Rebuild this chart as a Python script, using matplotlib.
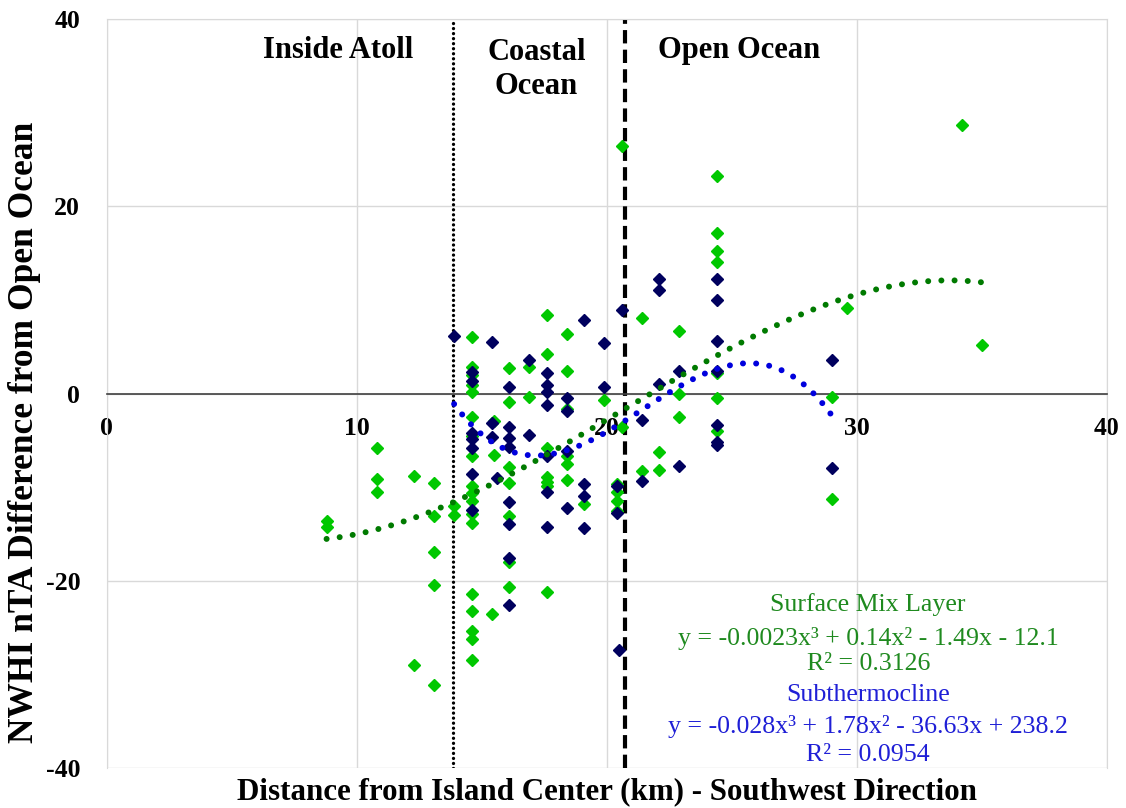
import matplotlib
matplotlib.use('Agg')
import matplotlib.pyplot as plt
import numpy as np

plt.rcParams['font.family'] = ['Liberation Serif', 'DejaVu Serif']
plt.rcParams['axes.unicode_minus'] = False

# Surface mix layer samples: distance (km) and nTA difference
surface_x = [8.8, 8.8,
             10.8, 10.8, 10.8,
             12.3, 12.3,
             13.1, 13.1, 13.1, 13.1, 13.1,
             13.9, 13.9,
             14.6, 14.6, 14.6, 14.6, 14.6, 14.6, 14.6, 14.6, 14.6, 14.6, 14.6, 14.6, 14.6,
             14.6, 14.6, 14.6, 14.6, 14.6,
             15.5, 15.5, 15.4,
             16.1, 16.1, 16.1, 16.1, 16.1, 16.1, 16.1,
             16.9, 16.9,
             17.6, 17.6, 17.6, 17.6, 17.6, 17.6, 17.6,
             18.4, 18.4, 18.4, 18.4, 18.4, 18.4,
             19.1,
             19.9,
             20.4, 20.4, 20.4, 20.4, 20.6, 20.6,
             21.4, 21.4,
             22.1, 22.1,
             22.9, 22.9, 22.9,
             24.4, 24.4, 24.4, 24.4, 24.4, 24.4, 24.4,
             29.0, 29.0,
             29.6, 34.2, 35.0]
surface_y = [-13.6, -14.2,
             -5.8, -9.1, -10.5,
             -8.8, -29.0,
             -9.5, -13.1, -16.9, -20.4, -31.1,
             -12.0, -12.9,
             6.1, 2.9, 2.0, 0.9, 0.2, -2.5, -4.5, -6.6, -9.8, -10.6, -11.5, -12.8, -13.8,
             -21.4, -23.2, -25.3, -26.2, -28.4,
             -2.9, -6.5, -23.5,
             2.7, -0.9, -7.8, -9.5, -13.0, -18.0, -20.6,
             2.9, -0.3,
             8.4, 4.2, -5.8, -8.9, -9.4, -9.9, -21.2,
             6.4, 2.4, -1.6, -6.6, -7.5, -9.2,
             -11.8,
             -0.7,
             -9.6, -10.5, -11.4, -12.5, 26.4, -3.5,
             8.1, -8.3,
             -6.2, -8.1,
             6.7, 0.0, -2.5,
             23.2, 17.2, 15.2, 14.1, 2.2, -0.5, -4.0,
             -0.4, -11.2,
             9.2, 28.7, 5.2]

# Subthermocline samples
subtherm_x = [13.9,
              14.6, 14.6, 14.6, 14.6, 14.6, 14.6, 14.6,
              15.4, 15.4, 15.4, 15.6,
              16.1, 16.1, 16.1, 16.1, 16.1, 16.1, 16.1, 16.1,
              16.9, 16.9,
              17.6, 17.6, 17.6, 17.6, 17.6, 17.6, 17.6,
              18.4, 18.4, 18.4, 18.4,
              19.1, 19.1, 19.1, 19.1,
              19.9, 19.9,
              20.6, 20.4, 20.4, 20.5,
              21.4, 21.4,
              22.1, 22.1, 22.1,
              22.9, 22.9,
              24.4, 24.4, 24.4, 24.4, 24.4, 24.4, 24.4,
              29.0, 29.0]
subtherm_y = [6.2,
              2.3, 1.4, -4.2, -4.8, -5.8, -8.6, -12.4,
              5.5, -3.1, -4.6, -9.0,
              0.7, -3.6, -4.7, -5.7, -11.6, -13.9, -17.5, -22.6,
              3.6, -4.4,
              2.2, 0.9, 0.2, -1.2, -6.6, -10.5, -14.2,
              -0.5, -1.8, -6.1, -12.2,
              7.9, -9.6, -10.9, -14.3,
              5.4, 0.7,
              8.9, -9.9, -12.7, -27.3,
              -2.8, -9.3,
              12.2, 11.1, 1.0,
              2.4, -7.7,
              12.2, 10.0, 5.6, 2.4, -3.3, -5.2, -5.5,
              3.6, -7.9]

zone_names = ['Inside Atoll', 'Coastal\nOcean', 'Open Ocean']
zone_label_x = [9.26, 17.2, 25.3]
atoll_edge = 13.85
coast_edge = 20.75

surface_fit_text = ['Surface Mix Layer',
                    'y = -0.0023x³ + 0.14x² - 1.49x - 12.1',
                    'R² = 0.3126']
subtherm_fit_text = ['Subthermocline',
                     'y = -0.028x³ + 1.78x² - 36.63x + 238.2',
                     'R² = 0.0954']

light_green = '#00c800'
navy = '#00005e'
trend_green = '#007a00'
trend_blue = '#0000dd'

fig = plt.figure(figsize=(11.26, 8.08), dpi=100)
ax = fig.add_axes([0.0946, 0.0489, 0.8883, 0.9276])

ax.set_xlim(0, 40)
ax.set_ylim(-40, 40)
ax.set_xticks([0, 10, 20, 30, 40])
ax.set_yticks([-40, -20, 0, 20, 40])
ax.grid(True, color='#d9d9d9', linewidth=1)
ax.set_axisbelow(True)
for side in ['left', 'right', 'top']:
    ax.spines[side].set_color('#d9d9d9')
ax.spines['bottom'].set_position(('data', 0))
ax.spines['bottom'].set_color('#404040')
ax.spines['bottom'].set_linewidth(1.2)
ax.tick_params(length=0, labelsize=18.5)
ax.tick_params(axis='x', pad=17)
ax.tick_params(axis='y', pad=19)
for lbl in ax.get_xticklabels() + ax.get_yticklabels():
    lbl.set_fontweight('bold')

ax.plot(surface_x, surface_y, linestyle='none', marker='D', ms=6.3,
        color=light_green, zorder=3)
ax.plot(subtherm_x, subtherm_y, linestyle='none', marker='D', ms=6.3,
        color=navy, zorder=4)

# third order polynomial trendlines over each series' range
for xs, ys, c in [(surface_x, surface_y, trend_green),
                  (subtherm_x, subtherm_y, trend_blue)]:
    coef = np.polyfit(xs, ys, 3)
    xx = np.linspace(min(xs), max(xs), 200)
    ax.plot(xx, np.polyval(coef, xx), color=c, linewidth=4.3,
            linestyle=(0, (0.01, 2.2)), dash_capstyle='round', zorder=5)

ax.axvline(atoll_edge, color='black', linewidth=2.4, linestyle=(0, (0.01, 1.5)),
           dash_capstyle='round', zorder=2)
ax.axvline(coast_edge, color='black', linewidth=3, linestyle=(0, (3.2, 1.5)), zorder=2)

for name, x in zip(zone_names, zone_label_x):
    ax.text(x, 34.6 if '\n' in name else 36.6, name, ha='center', va='center',
            fontsize=22, fontweight='bold', linespacing=1.2)

line_y = [-22.45, -26.1, -28.9, -32.2, -35.5, -38.6]
for txt, y in zip(surface_fit_text + subtherm_fit_text, line_y):
    col = '#1f8a1f' if txt in surface_fit_text else '#1f1fd6'
    ax.text(30.46, y, txt, ha='center', va='center', fontsize=18.6, color=col)

ax.set_xlabel('Distance from Island Center (km) - Southwest Direction',
              fontsize=22.3, fontweight='bold')
ax.xaxis.set_label_coords(0.5, -0.012)
ax.set_ylabel('NWHI nTA Difference from Open Ocean', fontsize=25.5, fontweight='bold')
ax.yaxis.set_label_coords(-0.066, 0.449)

fig.savefig('out.png', dpi=100)
